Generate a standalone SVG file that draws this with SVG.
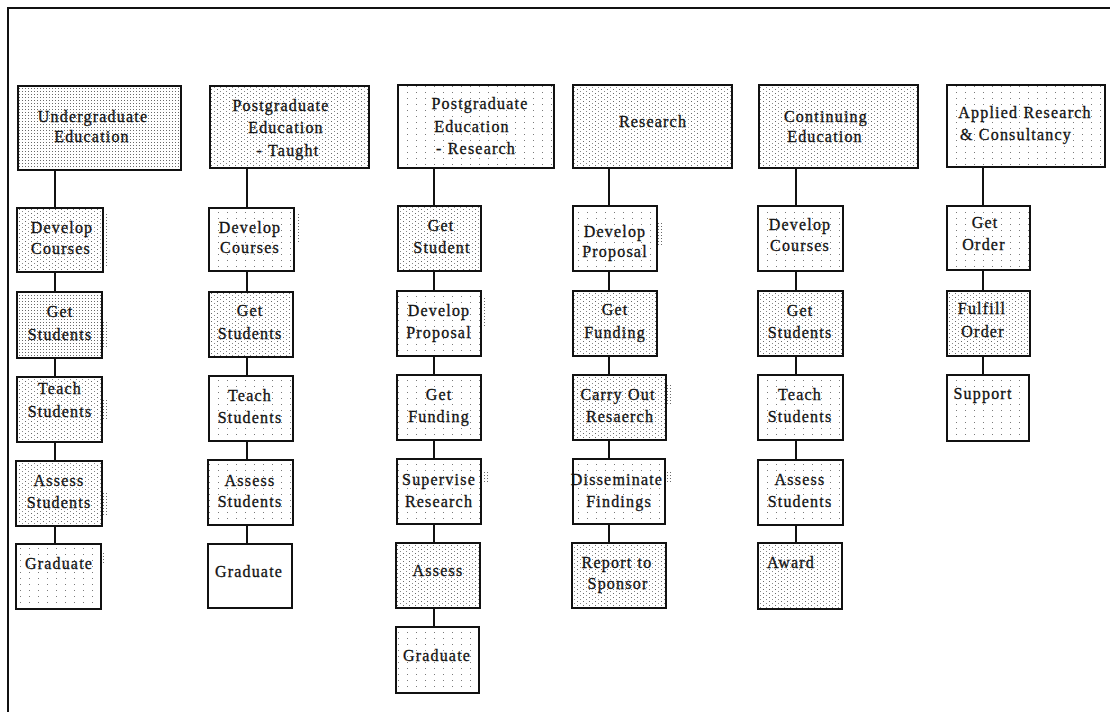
<svg xmlns="http://www.w3.org/2000/svg" width="1110" height="712" viewBox="0 0 1110 712">
  <defs>
    <!-- halftone stipple fills for the boxes -->
    <pattern id="dots" width="3" height="3" patternUnits="userSpaceOnUse">
      <rect x="1" y="1" width="1" height="1" fill="#6a6a6a"/>
    </pattern>
    <pattern id="dotsLight" width="6" height="4" patternUnits="userSpaceOnUse">
      <rect x="1" y="1" width="1" height="1" fill="#6a6a6a"/>
      <rect x="4" y="3" width="1" height="1" fill="#8a8a8a"/>
    </pattern>
    <pattern id="dotsFaint" width="9" height="6" patternUnits="userSpaceOnUse">
      <rect x="2" y="2" width="1" height="1" fill="#7a7a7a"/>
    </pattern>
  </defs>
  <style>
    .box { stroke: #111; stroke-width: 2; }
    .dense { fill: url(#dots); }
    .light { fill: url(#dotsLight); }
    .faint { fill: url(#dotsFaint); }
    .shade { fill: url(#dots); stroke: none; }
    .lbl { font-family: "Liberation Serif", "Times New Roman", serif; font-size: 16px; letter-spacing: 1.2px; fill: #111; stroke: #111; stroke-width: 0.3; text-anchor: middle; }
    .link { stroke: #111; stroke-width: 2; fill: none; }
    .frame { stroke: #111; stroke-width: 2; fill: none; }
  </style>

  <rect width="1110" height="712" fill="#fff"/>

  <!-- page frame: top and left rules only -->
  <path class="frame" d="M8,712 V8 H1110"/>

  <!-- connectors -->
  <g id="connectors">
    <path class="link" d="M55,170 V208 M55,272 V292 M55,358 V377 M55,442 V461 M55,526 V544"/>
    <path class="link" d="M247,168 V208 M247,271 V292 M247,357 V376 M247,441 V460 M247,525 V544"/>
    <path class="link" d="M434,168 V206 M434,271 V291 M434,356 V375 M434,440 V459 M434,524 V543 M434,608 V627"/>
    <path class="link" d="M609,168 V206 M609,271 V291 M609,356 V375 M609,440 V459 M609,524 V543"/>
    <path class="link" d="M796,168 V206 M796,271 V291 M796,356 V375 M796,440 V460 M796,525 V543"/>
    <path class="link" d="M983,167 V206 M983,270 V291 M983,356 V375"/>
  </g>

  <!-- Undergraduate Education -->
  <g id="ug">
    <rect class="box dense" x="18" y="86" width="163" height="84"/>
    <text class="lbl"><tspan x="93" y="122">Undergraduate</tspan><tspan x="92" y="142">Education</tspan></text>
  </g>
  <g id="ug-develop">
    <rect class="shade" x="104" y="214" width="5" height="52"/>
    <rect class="box light" x="17" y="208" width="86" height="64"/>
    <text class="lbl"><tspan x="62" y="233">Develop</tspan><tspan x="61" y="254">Courses</tspan></text>
  </g>
  <g id="ug-get">
    <rect class="shade" x="103" y="322" width="4" height="26"/>
    <rect class="box dense" x="17" y="292" width="85" height="66"/>
    <text class="lbl"><tspan x="60" y="317">Get</tspan><tspan x="60" y="340">Students</tspan></text>
  </g>
  <g id="ug-teach">
    <rect class="shade" x="103" y="400" width="4" height="20"/>
    <rect class="box light" x="17" y="377" width="85" height="65"/>
    <text class="lbl"><tspan x="60" y="394">Teach</tspan><tspan x="60" y="417">Students</tspan></text>
  </g>
  <g id="ug-assess">
    <rect class="shade" x="103" y="492" width="4" height="24"/>
    <rect class="box light" x="16" y="461" width="86" height="65"/>
    <text class="lbl"><tspan x="59" y="486">Assess</tspan><tspan x="59" y="508">Students</tspan></text>
  </g>
  <g id="ug-graduate">
    <rect class="shade" x="102" y="552" width="4" height="12"/>
    <rect class="box faint" x="16" y="544" width="85" height="65"/>
    <text class="lbl"><tspan x="59" y="569">Graduate</tspan></text>
  </g>

  <!-- Postgraduate Education - Taught -->
  <g id="pgt">
    <rect class="box light" x="210" y="86" width="159" height="82"/>
    <text class="lbl"><tspan x="281" y="111">Postgraduate</tspan><tspan x="286" y="133">Education</tspan><tspan x="288" y="156">- Taught</tspan></text>
  </g>
  <g id="pgt-develop">
    <rect class="shade" x="296" y="213" width="3" height="30"/>
    <rect class="box faint" x="209" y="208" width="85" height="63"/>
    <text class="lbl"><tspan x="250" y="233">Develop</tspan><tspan x="250" y="253">Courses</tspan></text>
  </g>
  <g id="pgt-get">
    <rect class="box light" x="209" y="292" width="84" height="65"/>
    <text class="lbl"><tspan x="250" y="316">Get</tspan><tspan x="250" y="339">Students</tspan></text>
  </g>
  <g id="pgt-teach">
    <rect class="box faint" x="209" y="376" width="84" height="65"/>
    <text class="lbl"><tspan x="250" y="401">Teach</tspan><tspan x="250" y="423">Students</tspan></text>
  </g>
  <g id="pgt-assess">
    <rect class="box faint" x="208" y="460" width="85" height="65"/>
    <text class="lbl"><tspan x="250" y="486">Assess</tspan><tspan x="250" y="507">Students</tspan></text>
  </g>
  <g id="pgt-graduate">
    <rect class="box" fill="#fff" x="208" y="544" width="84" height="64"/>
    <text class="lbl"><tspan x="249" y="577">Graduate</tspan></text>
  </g>

  <!-- Postgraduate Education - Research -->
  <g id="pgr">
    <rect class="box faint" x="398" y="85" width="156" height="83"/>
    <text class="lbl"><tspan x="480" y="109">Postgraduate</tspan><tspan x="472" y="132">Education</tspan><tspan x="476" y="154">- Research</tspan></text>
  </g>
  <g id="pgr-get">
    <rect class="box light" x="398" y="206" width="83" height="65"/>
    <text class="lbl"><tspan x="441" y="231">Get</tspan><tspan x="442" y="253">Student</tspan></text>
  </g>
  <g id="pgr-develop">
    <rect class="shade" x="482" y="298" width="4" height="30"/>
    <rect class="box faint" x="397" y="291" width="84" height="65"/>
    <text class="lbl"><tspan x="439" y="316">Develop</tspan><tspan x="439" y="338">Proposal</tspan></text>
  </g>
  <g id="pgr-funding">
    <rect class="box faint" x="397" y="375" width="84" height="65"/>
    <text class="lbl"><tspan x="439" y="400">Get</tspan><tspan x="439" y="422">Funding</tspan></text>
  </g>
  <g id="pgr-supervise">
    <rect class="shade" x="482" y="470" width="6" height="12"/>
    <rect class="box faint" x="397" y="459" width="84" height="65"/>
    <text class="lbl"><tspan x="439" y="485">Supervise</tspan><tspan x="439" y="507">Research</tspan></text>
  </g>
  <g id="pgr-assess">
    <rect class="box light" x="396" y="543" width="84" height="65"/>
    <text class="lbl"><tspan x="438" y="576">Assess</tspan></text>
  </g>
  <g id="pgr-graduate">
    <rect class="box faint" x="396" y="627" width="83" height="66"/>
    <text class="lbl"><tspan x="437" y="661">Graduate</tspan></text>
  </g>

  <!-- Research -->
  <g id="res">
    <rect class="box light" x="573" y="85" width="159" height="83"/>
    <text class="lbl"><tspan x="653" y="127">Research</tspan></text>
  </g>
  <g id="res-develop">
    <rect class="shade" x="658" y="222" width="4" height="24"/>
    <rect class="box faint" x="573" y="206" width="84" height="65"/>
    <text class="lbl"><tspan x="615" y="237">Develop</tspan><tspan x="615" y="257">Proposal</tspan></text>
  </g>
  <g id="res-funding">
    <rect class="box light" x="573" y="291" width="84" height="65"/>
    <text class="lbl"><tspan x="615" y="315">Get</tspan><tspan x="615" y="338">Funding</tspan></text>
  </g>
  <g id="res-carry">
    <rect class="shade" x="667" y="384" width="6" height="22"/>
    <rect class="box light" x="573" y="375" width="93" height="65"/>
    <text class="lbl"><tspan x="618" y="400">Carry Out</tspan><tspan x="620" y="422">Resaerch</tspan></text>
  </g>
  <g id="res-disseminate">
    <rect class="shade" x="666" y="470" width="5" height="12"/>
    <rect class="box faint" x="573" y="459" width="92" height="65"/>
    <text class="lbl"><tspan x="617" y="485">Disseminate</tspan><tspan x="619" y="507">Findings</tspan></text>
  </g>
  <g id="res-report">
    <rect class="box light" x="572" y="543" width="94" height="65"/>
    <text class="lbl"><tspan x="617" y="568">Report to</tspan><tspan x="618" y="589">Sponsor</tspan></text>
  </g>

  <!-- Continuing Education -->
  <g id="ce">
    <rect class="box light" x="759" y="85" width="159" height="83"/>
    <text class="lbl"><tspan x="826" y="122">Continuing</tspan><tspan x="825" y="142">Education</tspan></text>
  </g>
  <g id="ce-develop">
    <rect class="box faint" x="758" y="206" width="85" height="65"/>
    <text class="lbl"><tspan x="800" y="230">Develop</tspan><tspan x="800" y="251">Courses</tspan></text>
  </g>
  <g id="ce-get">
    <rect class="box light" x="758" y="291" width="85" height="65"/>
    <text class="lbl"><tspan x="800" y="316">Get</tspan><tspan x="800" y="338">Students</tspan></text>
  </g>
  <g id="ce-teach">
    <rect class="box faint" x="758" y="375" width="85" height="65"/>
    <text class="lbl"><tspan x="800" y="400">Teach</tspan><tspan x="800" y="422">Students</tspan></text>
  </g>
  <g id="ce-assess">
    <rect class="box faint" x="758" y="460" width="85" height="65"/>
    <text class="lbl"><tspan x="800" y="485">Assess</tspan><tspan x="800" y="507">Students</tspan></text>
  </g>
  <g id="ce-award">
    <rect class="box light" x="758" y="543" width="84" height="66"/>
    <text class="lbl"><tspan x="791" y="568">Award</tspan></text>
  </g>

  <!-- Applied Research & Consultancy -->
  <g id="ar">
    <rect class="box faint" x="947" y="85" width="158" height="82"/>
    <text class="lbl"><tspan x="1025" y="118">Applied Research</tspan><tspan x="1016" y="140">&amp; Consultancy</tspan></text>
  </g>
  <g id="ar-get">
    <rect class="box faint" x="947" y="206" width="83" height="64"/>
    <text class="lbl"><tspan x="985" y="228">Get</tspan><tspan x="984" y="250">Order</tspan></text>
  </g>
  <g id="ar-fulfill">
    <rect class="box light" x="947" y="291" width="83" height="65"/>
    <text class="lbl"><tspan x="982" y="314">Fulfill</tspan><tspan x="983" y="337">Order</tspan></text>
  </g>
  <g id="ar-support">
    <rect class="box faint" x="947" y="375" width="82" height="66"/>
    <text class="lbl"><tspan x="983" y="399">Support</tspan></text>
  </g>
</svg>
